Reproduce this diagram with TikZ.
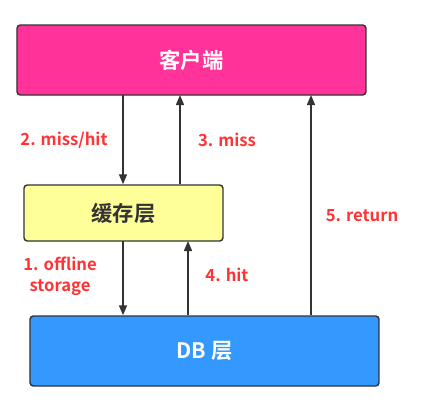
\documentclass[tikz,border=0pt]{standalone}
\usepackage{fontspec}
\setmainfont{Noto Sans CJK SC}[BoldFont={Noto Sans CJK SC Bold}]
\usetikzlibrary{arrows.meta}
\definecolor{pinkbox}{HTML}{FF3399}
\definecolor{yellowbox}{HTML}{FFFF99}
\definecolor{bluebox}{HTML}{3399FF}
\definecolor{edge}{HTML}{333333}
\definecolor{lab}{HTML}{FF3333}
\begin{document}
\begin{tikzpicture}[x=0.75pt,y=-0.75pt,
  box/.style={draw=edge,line width=1.1pt,rounded corners=2.5pt,inner sep=0pt,font=\bfseries\fontsize{16}{19}\selectfont},
  conn/.style={draw=edge,line width=1.1pt,-{Triangle[length=7.5pt,width=6pt]}},
  lbl/.style={text=lab,font=\bfseries\fontsize{12.5}{15.5}\selectfont,align=center}]
\useasboundingbox (0,0) rectangle (437,412);
\node[box,fill=pinkbox,text=white,minimum width=349*0.75pt,minimum height=70*0.75pt] (client) at (191.5,60) {客户端};
\node[box,fill=yellowbox,text=edge,minimum width=199*0.75pt,minimum height=56*0.75pt] (cache) at (123.5,213) {缓存层};
\node[box,fill=bluebox,text=white,minimum width=349*0.75pt,minimum height=70*0.75pt] (db) at (204.5,351) {DB 层};
\coordinate (c1) at (123,95);
\coordinate (c2) at (180,95);
\coordinate (c3) at (311,95);
\draw[conn] (c1) -- (c1 |- cache.north);
\draw[conn] (c2 |- cache.north) -- (c2);
\draw[conn] (c3 |- db.north) -- (c3);
\coordinate (d1) at (123,241);
\coordinate (d2) at (188,241);
\draw[conn] (d1) -- (d1 |- db.north);
\draw[conn] (d2 |- db.north) -- (d2);
\node[lbl] (l2) at (64,140) {2. miss/hit};
\node[lbl] (l3) at (227,140) {3. miss};
\node[lbl] (l5) at (362,216) {5. return};
\node[lbl] (l1) at (60,276) {1. offline\\storage};
\node[lbl] (l4) at (227,275) {4. hit};
\end{tikzpicture}
\end{document}
